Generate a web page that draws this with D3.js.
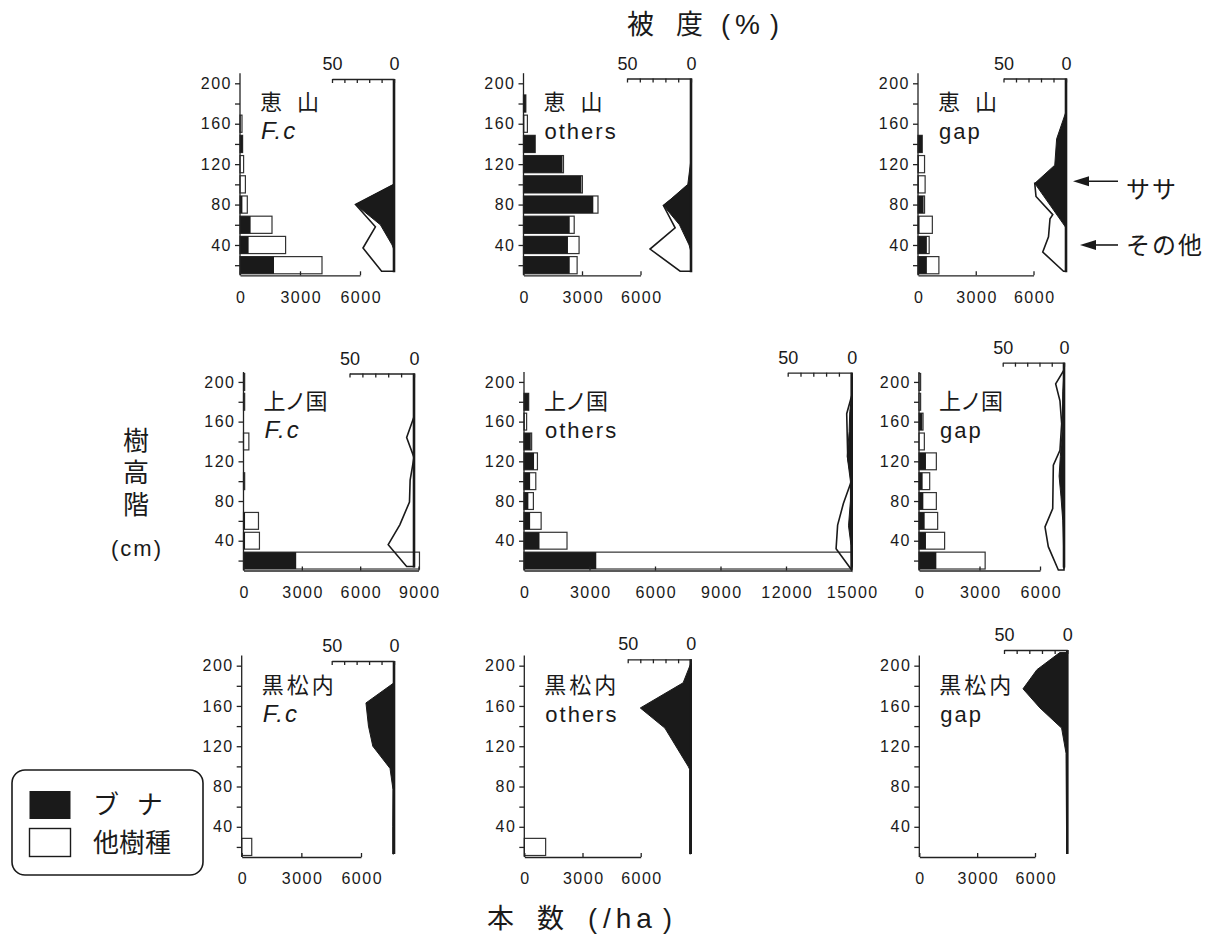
<!DOCTYPE html>
<html>
<head>
<meta charset="UTF-8">
<script src="https://d3js.org/d3.v7.min.js"></script>
<style>
  body { margin: 0; background: #fff; }
  svg text { font-family: "Liberation Sans", "Noto Sans CJK JP", sans-serif; fill: #1a1a1a; }
  .jp { font-family: "Noto Sans CJK JP", sans-serif; }
  .num { font-size: 16px; letter-spacing: 1.5px; }
</style>
</head>
<body>
<script>
// height classes (cm) - bar centres
var heights = [20, 40, 60, 80, 100, 120, 140, 160, 180, 200];

// stems per ha: ブナ (beech) and 他樹種 (other species), per height class
var esanFcBeech    = [1700, 430, 530, 120, 0, 0, 130, 20, 0, 0];
var esanFcOther    = [2400, 1850, 1070, 245, 270, 180, 0, 80, 0, 0];
var esanOtBeech    = [2370, 2280, 2370, 3580, 2970, 2000, 600, 40, 120, 0];
var esanOtOther    = [380, 570, 230, 240, 50, 50, 0, 160, 0, 0];
var esanGapBeech   = [460, 460, 80, 290, 40, 40, 220, 0, 0, 0];
var esanGapOther   = [625, 120, 665, 50, 330, 300, 0, 0, 0, 0];
var kamiFcBeech    = [2710, 80, 80, 0, 30, 0, 0, 0, 30, 30];
var kamiFcOther    = [6340, 740, 690, 0, 30, 0, 275, 0, 30, 30];
var kamiOtBeech    = [3310, 710, 280, 200, 280, 460, 310, 20, 215, 0];
var kamiOtOther    = [11690, 1260, 505, 230, 260, 155, 40, 100, 0, 0];
var kamiGapBeech   = [860, 345, 280, 215, 180, 345, 0, 165, 0, 0];
var kamiGapOther   = [2420, 925, 645, 645, 350, 515, 265, 35, 80, 80];
var kuroFcBeech    = [0, 0, 0, 0, 0, 0, 0, 0, 0, 0];
var kuroFcOther    = [505, 0, 0, 0, 0, 0, 0, 0, 0, 0];
var kuroOtBeech    = [0, 0, 0, 0, 0, 0, 0, 0, 0, 0];
var kuroOtOther    = [1100, 0, 0, 0, 0, 0, 0, 0, 0, 0];
var kuroGapBeech   = [0, 0, 0, 0, 0, 0, 0, 0, 0, 0];
var kuroGapOther   = [0, 0, 0, 0, 0, 0, 0, 0, 0, 0];

// cover profiles [height cm, cover %]: ササ (filled) and その他 (outline)
var esanFcSasa   = [[100,0],[80,31],[60,11],[40,1.5],[35,0]];
var esanFcCov    = [[100,0],[80,31],[58,15],[37,25],[14,10],[14,0]];
var esanOtSasa   = [[125,0],[100,2.5],[79,21.5],[60,9],[40,1.5],[33,0]];
var esanOtCov    = [[100,0],[79,21.5],[57,12.4],[36,32],[14,8.5],[14,0]];
var esanGapSasa  = [[172,0],[145,7.5],[119,9],[101,25],[57,0]];
var esanGapCov   = [[101,0],[101,25],[88,24],[70,10.6],[66,12.8],[48,14],[33,18.6],[14,2],[14,0]];
var kamiFcSasa   = [];
var kamiFcCov    = [[165,0],[144,5.7],[124,0],[101,3],[79,3.5],[56,11],[36,20],[14,5.7],[14,0]];
var kamiOtSasa   = [[186,0],[170,1.5],[150,2],[125,3.5],[100,1],[80,1],[55,2.5],[35,0.5],[11,0]];
var kamiOtCov    = [[186,0],[168,3.9],[124,3.1],[101,0],[77.5,6.5],[55.7,11],[32,12.2],[10.5,0]];
var kamiGapSasa  = [[210,0],[190,1],[150,1.5],[125,3],[105,4],[85,2.5],[60,1],[40,0.5],[12,0]];
var kamiGapCov   = [[212,0],[198,6.8],[181,3.3],[158,1.9],[131,3.3],[116,8.7],[72.5,9.2],[54,15.5],[34,12.8],[10.5,4.6],[10.5,0]];
var kuroFcSasa   = [[183,0],[163,22.5],[140,20.5],[120,17],[98,3.2],[77,0.8],[40,1],[13,1],[13,0]];
var kuroFcCov    = [];
var kuroOtSasa   = [[202,0],[183,6],[158,40],[138,20.5],[100,2],[97,0.8],[13,0.8],[13,0]];
var kuroOtCov    = [];
var kuroGapSasa  = [[213,0],[213,6],[196,24],[177,35],[158,21.6],[138,4.5],[113,1],[15,0.5],[15,0]];
var kuroGapCov   = [];

var countTicks6  = [0, 3000, 6000];
var countTicks9  = [0, 3000, 6000, 9000];
var countTicks15 = [0, 3000, 6000, 9000, 12000, 15000];
var coverTicks   = [0, 10, 20, 30, 40, 50];
var heightTicks  = [20, 40, 60, 80, 100, 120, 140, 160, 180, 200];

// panel layout
var rows = [{yb: 275.3, yt: 73.2}, {yb: 570.5, yt: 372}, {yb: 857, yt: 655.6}];
var panels = [
  {row:0, site:"恵 山", ls:5, sub:"F.c", beech:esanFcBeech, other:esanFcOther, sasa:esanFcSasa, cov:esanFcCov, xMax:6000, ticks:countTicks6, x0:240, x1:360, cz:394, c50:332, ct:79},
  {row:0, site:"恵 山", ls:5, sub:"others", beech:esanOtBeech, other:esanOtOther, sasa:esanOtSasa, cov:esanOtCov, xMax:6000, ticks:countTicks6, x0:523.5, x1:640.5, cz:691, c50:627, ct:78.5},
  {row:0, site:"恵 山", ls:5, sub:"gap", beech:esanGapBeech, other:esanGapOther, sasa:esanGapSasa, cov:esanGapCov, xMax:6000, ticks:countTicks6, x0:918, x1:1033.5, cz:1066, c50:1003.5, ct:78.5},
  {row:1, site:"上ノ国", ls:-1, sub:"F.c", beech:kamiFcBeech, other:kamiFcOther, sasa:kamiFcSasa, cov:kamiFcCov, xMax:9000, ticks:countTicks9, x0:243.5, x1:418.5, cz:414, c50:349.5, ct:373.5},
  {row:1, site:"上ノ国", ls:-1, sub:"others", beech:kamiOtBeech, other:kamiOtOther, sasa:kamiOtSasa, cov:kamiOtCov, xMax:15000, ticks:countTicks15, x0:524, x1:851.5, cz:851.7, c50:787.7, ct:372.7},
  {row:1, site:"上ノ国", ls:-1, sub:"gap", beech:kamiGapBeech, other:kamiGapOther, sasa:kamiGapSasa, cov:kamiGapCov, xMax:6000, ticks:countTicks6, x0:919, x1:1040, cz:1064, c50:1002.7, ct:362.7},
  {row:2, site:"黒松内", ls:3, sub:"F.c", beech:kuroFcBeech, other:kuroFcOther, sasa:kuroFcSasa, cov:kuroFcCov, xMax:6000, ticks:countTicks6, x0:241.7, x1:361, cz:394, c50:331.7, ct:661},
  {row:2, site:"黒松内", ls:3, sub:"others", beech:kuroOtBeech, other:kuroOtOther, sasa:kuroOtSasa, cov:kuroOtCov, xMax:6000, ticks:countTicks6, x0:524.3, x1:640.7, cz:690.7, c50:627.7, ct:659.3},
  {row:2, site:"黒松内", ls:3, sub:"gap", beech:kuroGapBeech, other:kuroGapOther, sasa:kuroGapSasa, cov:kuroGapCov, xMax:6000, ticks:countTicks6, x0:919.3, x1:1035, cz:1067.3, c50:1004, ct:650}
];

var INK = "#1a1a1a";
var svg = d3.select("body").append("svg")
    .attr("width", 1214)
    .attr("height", 938);

function styleAxis(g) {
  g.attr("font-family", null).attr("font-size", null);
  g.selectAll("path, line").attr("stroke", "#222").attr("stroke-width", 1.3);
}

panels.forEach(function (p) {
  var r = rows[p.row];
  var y = d3.scaleLinear().domain([10, 210]).range([r.yb, r.yt]);
  var x = d3.scaleLinear().domain([0, p.xMax]).range([p.x0, p.x1]);
  var c = d3.scaleLinear().domain([0, 50]).range([p.cz, p.c50]);
  var g = svg.append("g");

  // bars
  var rowsData = heights.map(function (h, i) { return {h: h, b: p.beech[i], o: p.other[i]}; })
      .filter(function (d) { return d.b + d.o > 0; });
  g.selectAll("rect.tot").data(rowsData).join("rect")
      .attr("class", "tot")
      .attr("x", x(0))
      .attr("y", function (d) { return y(d.h + 8.5); })
      .attr("width", function (d) { return x(d.b + d.o) - x(0); })
      .attr("height", function (d) { return y(d.h - 8.5) - y(d.h + 8.5); })
      .attr("fill", "#fff")
      .attr("stroke", "#333")
      .attr("stroke-width", 1.2);
  g.selectAll("rect.bna").data(rowsData.filter(function (d) { return d.b > 0; })).join("rect")
      .attr("class", "bna")
      .attr("x", x(0))
      .attr("y", function (d) { return y(d.h + 8.5); })
      .attr("width", function (d) { return x(d.b) - x(0); })
      .attr("height", function (d) { return y(d.h - 8.5) - y(d.h + 8.5); })
      .attr("fill", INK);

  // cover profiles
  var line = d3.line().x(function (d) { return c(d[1]); }).y(function (d) { return y(d[0]); });
  if (p.cov.length) {
    g.append("path").attr("d", line(p.cov) + "Z")
        .attr("fill", "none").attr("stroke", INK).attr("stroke-width", 1.6)
        .attr("stroke-linejoin", "miter");
  }
  if (p.sasa.length) {
    g.append("path").attr("d", line(p.sasa) + "Z")
        .attr("fill", INK).attr("stroke", INK).attr("stroke-width", 1);
  }
  g.append("line")
      .attr("x1", c(0)).attr("x2", c(0))
      .attr("y1", p.ct).attr("y2", y(13))
      .attr("stroke", INK).attr("stroke-width", 2.6);

  // cover axis (top)
  var ca = g.append("g").attr("transform", "translate(0," + p.ct + ")")
      .call(d3.axisTop(c).tickValues(coverTicks).tickSizeInner(-4).tickSizeOuter(0).tickPadding(9)
          .tickFormat(function (d) { return (d === 0 || d === 50) ? d : ""; }));
  styleAxis(ca);
  ca.selectAll("text").style("font-size", "18px");

  // height axis
  var ya = g.append("g").attr("transform", "translate(" + p.x0 + ",0)")
      .call(d3.axisLeft(y).tickValues(heightTicks).tickSize(5).tickSizeOuter(0).tickPadding(3)
          .tickFormat(function (d) { return d % 40 === 0 ? d : ""; }));
  ya.select(".domain").attr("d", "M0," + y(10) + "V" + y(210));
  styleAxis(ya);
  ya.selectAll("text").attr("class", "num");

  // count axis
  var xa = g.append("g").attr("transform", "translate(0," + y(10) + ")")
      .call(d3.axisBottom(x).tickValues(p.ticks).tickSizeInner(-4).tickSizeOuter(0).tickPadding(16)
          .tickFormat(d3.format("d")));
  styleAxis(xa);
  xa.selectAll("text").attr("class", "num").attr("dx", "0.75px");

  // panel labels
  g.append("text").attr("class", "jp")
      .attr("x", p.x0 + 20).attr("y", y(200) + 27)
      .style("font-size", "22px").style("letter-spacing", p.ls + "px")
      .text(p.site);
  g.append("text")
      .attr("x", p.x0 + 21).attr("y", y(200) + 56)
      .style("font-size", p.sub === "F.c" ? "24px" : "22px")
      .style("font-style", p.sub === "F.c" ? "italic" : "normal")
      .style("letter-spacing", "2px")
      .text(p.sub);

  // arrows pointing at the two cover profiles (恵山 gap)
  if (p.row === 0 && p.sub === "gap") {
    [[103, "ササ", 7], [40, "その他", 14]].forEach(function (a) {
      var ay = y(a[0]);
      var tip = p.cz + a[2];
      g.append("line").attr("x1", tip + 12).attr("x2", 1118).attr("y1", ay).attr("y2", ay)
          .attr("stroke", INK).attr("stroke-width", 1.6);
      g.append("path").attr("d", "M" + tip + "," + ay + "L" + (tip + 16) + "," + (ay - 5) + "L" + (tip + 16) + "," + (ay + 5) + "Z")
          .attr("fill", INK);
      g.append("text").attr("class", "jp").attr("x", 1126).attr("y", ay + (a[1] === "ササ" ? 17 : 9))
          .style("font-size", "24px").style("letter-spacing", "2px").text(a[1]);
    });
  }
});

// axis titles
var coverTitle = svg.append("text").attr("y", 34).style("font-size", "27px");
coverTitle.append("tspan").attr("class", "jp").attr("x", 627).text("被");
coverTitle.append("tspan").attr("class", "jp").attr("x", 676).text("度");
coverTitle.append("tspan").attr("x", 721).text("(");
coverTitle.append("tspan").attr("x", 735).style("font-size", "28px").text("%");
coverTitle.append("tspan").attr("x", 770).text(")");

var countTitle = svg.append("text").attr("y", 928).style("font-size", "27px");
countTitle.append("tspan").attr("class", "jp").attr("x", 487).text("本");
countTitle.append("tspan").attr("class", "jp").attr("x", 537).text("数");
countTitle.append("tspan").attr("x", 588).text("(");
countTitle.append("tspan").attr("x", 603).style("font-size", "28px").style("letter-spacing", "5px").text("/ha");
countTitle.append("tspan").attr("x", 663).text(")");

svg.append("text").attr("class", "jp")
    .attr("x", 136).attr("y", 427)
    .style("writing-mode", "vertical-rl")
    .style("font-size", "26px").style("letter-spacing", "6px")
    .text("樹高階");
svg.append("text").attr("x", 137).attr("y", 556)
    .attr("text-anchor", "middle").style("font-size", "22px").style("letter-spacing", "2px")
    .text("(cm)");

// legend
var lg = svg.append("g");
lg.append("rect").attr("x", 12).attr("y", 770).attr("width", 191).attr("height", 105).attr("rx", 13)
    .attr("fill", "#fff").attr("stroke", INK).attr("stroke-width", 1.6);
lg.append("rect").attr("x", 29.5).attr("y", 791).attr("width", 41).attr("height", 28).attr("fill", INK);
lg.append("rect").attr("x", 29.5).attr("y", 828.5).attr("width", 41).attr("height", 28)
    .attr("fill", "#fff").attr("stroke", INK).attr("stroke-width", 1.4);
lg.append("text").attr("class", "jp").attr("x", 93).attr("y", 814).style("font-size", "26px")
    .style("letter-spacing", "6px").text("ブ ナ");
lg.append("text").attr("class", "jp").attr("x", 93).attr("y", 852).style("font-size", "26px")
    .text("他樹種");
</script>
</body>
</html>
